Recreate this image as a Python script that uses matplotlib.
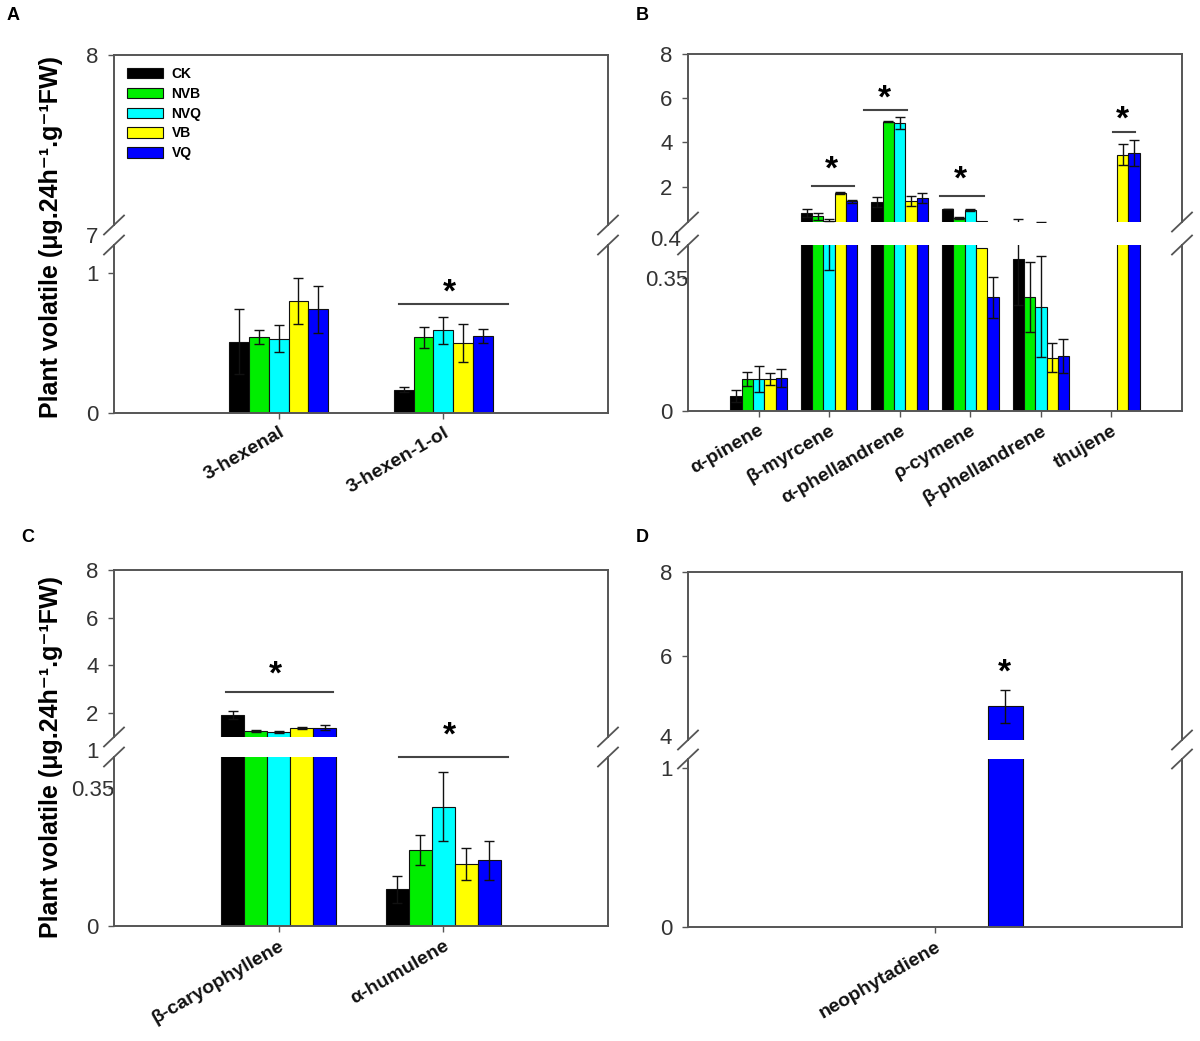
import numpy as np
import matplotlib.pyplot as plt
import matplotlib.transforms as mtransforms
from matplotlib.lines import Line2D
from matplotlib.patches import Patch

W, H = 1200, 1041

plt.rcParams['font.family'] = ['Liberation Sans', 'DejaVu Sans']

nan = np.nan
treatments = ['CK', 'NVB', 'NVQ', 'VB', 'VQ']
colors = ['#000000', '#00ee00', '#00ffff', '#ffff00', '#0000ff']

# A : green leaf volatiles
cats_A = ['3-hexenal', '3-hexen-1-ol']
mean_A = [[0.51, 0.167], [0.54, 0.54], [0.53, 0.59], [0.80, 0.50], [0.74, 0.55]]
err_A = [[0.23, 0.017], [0.05, 0.074], [0.095, 0.095], [0.167, 0.136], [0.167, 0.05]]

# B : monoterpenes
cats_B = ['α-pinene', 'β-myrcene', 'α-phellandrene', 'ρ-cymene', 'β-phellandrene', 'thujene']
mean_B = [[0.039, 0.81, 1.30, 0.99, 0.40, nan],
          [0.084, 0.66, 4.94, 0.58, 0.30, nan],
          [0.084, 0.45, 4.87, 0.93, 0.275, nan],
          [0.084, 1.71, 1.36, 0.43, 0.14, 3.44],
          [0.087, 1.33, 1.48, 0.30, 0.145, 3.52]]
err_B = [[0.016, 0.20, 0.21, 0.02, 0.12, nan],
         [0.019, 0.15, 0.03, 0.05, 0.093, nan],
         [0.034, 0.08, 0.27, 0.04, 0.134, nan],
         [0.015, 0.05, 0.23, nan, 0.038, 0.48],
         [0.023, 0.05, 0.23, 0.054, 0.044, 0.60]]

# C : sesquiterpenes
cats_C = ['β-caryophyllene', 'α-humulene']
mean_C = [[1.93, 0.093], [1.26, 0.193], [1.20, 0.303], [1.39, 0.157], [1.39, 0.167]]
err_C = [[0.17, 0.035], [0.05, 0.038], [0.04, 0.088], [0.05, 0.04], [0.11, 0.049]]

# D : diterpene
cats_D = ['neophytadiene']
mean_D = [[nan], [nan], [nan], [nan], [4.8]]
err_D = [[nan], [nan], [nan], [nan], [0.4]]

# significance marks: (axis, x0, x1, y_line, x_star, y_star)
sig_A = [('lo', 0.73, 1.39, 0.779, 1.04, 0.89)]
sig_B = [('up', 0.75, 1.35, 2.04, 1.03, 2.96),
         ('up', 1.50, 2.11, 5.47, 1.79, 6.18),
         ('up', 2.57, 3.19, 1.59, 2.86, 2.51),
         ('up', 5.02, 5.33, 4.48, 5.16, 5.25)]
sig_C = [('up', -0.32, 0.33, 2.87, -0.02, 3.79),
         ('lo', 0.73, 1.39, 0.429, 1.04, 0.495)]
sig_D = [('up', None, None, None, 0.28, 5.72)]

fig = plt.figure(figsize=(12, 10.41), dpi=100)
SPINE = '#555555'
TXT = '#333333'


def px_rect(l, t, r, b):
    return [l / W, 1 - b / H, (r - l) / W, (b - t) / H]


def ylabel_fmt(ax, ticks, labels):
    ax.set_yticks(ticks)
    ax.set_yticklabels(labels, fontsize=16, color=TXT, ha='center')
    ax.tick_params(axis='y', length=4, width=1, color=SPINE, pad=11.5, direction='out')


def draw_panel(box, up_lim, lo_lim, cats, means, errs, width, xlim,
               up_ticks, lo_ticks, breaks, sig):
    l, t, r, ub, lt, b = box
    ax_up = fig.add_axes(px_rect(l, t, r, ub))
    ax_lo = fig.add_axes(px_rect(l, lt, r, b))
    x = np.arange(len(cats))
    n = len(treatments)
    for ax in (ax_up, ax_lo):
        for i in range(n):
            xs = x + (i - (n - 1) / 2) * width
            m = np.array(means[i], dtype=float)
            e = np.array(errs[i], dtype=float)
            if ax is ax_up:
                # only what reaches above the break shows in the upper part
                e = np.where(m + np.nan_to_num(e) > up_lim[0], e, nan)
                m = np.where(m > up_lim[0], m, nan)
            ax.bar(xs, m, width, color=colors[i], edgecolor='#111111',
                   linewidth=0.8, zorder=2)
            ax.errorbar(xs, m if ax is ax_lo else np.array(means[i], dtype=float),
                        yerr=e, fmt='none', ecolor='#111111',
                        elinewidth=1, capsize=3.5, capthick=1, zorder=3)
        ax.set_xlim(xlim)
        for s in ax.spines.values():
            s.set_color(SPINE)
            s.set_linewidth(1.4)
    ax_up.set_ylim(up_lim)
    ax_lo.set_ylim(lo_lim)
    ax_up.spines['bottom'].set_visible(False)
    ax_lo.spines['top'].set_visible(False)
    ax_up.tick_params(axis='x', bottom=False, labelbottom=False)
    ylabel_fmt(ax_up, up_ticks, [f'{v:g}' for v in up_ticks])
    ylabel_fmt(ax_lo, lo_ticks, [f'{v:g}' for v in lo_ticks])

    ax_lo.set_xticks(x)
    ax_lo.set_xticklabels(cats, fontsize=14, fontweight='bold', rotation=30,
                          ha='right', rotation_mode='anchor', color='#111111')
    ax_lo.tick_params(axis='x', length=4, width=1, color=SPINE, pad=4)

    # break marks on both vertical spines
    for xs in (l, r):
        for yb in (ub, lt):
            fig.add_artist(Line2D([(xs - 10) / W, (xs + 10) / W],
                                  [1 - (yb + 9.5) / H, 1 - (yb - 9.5) / H],
                                  color=SPINE, lw=1.3))
    # labels sitting on the break
    for txt, ypx in breaks:
        fig.text((l - 22) / W, 1 - ypx / H, txt, fontsize=16, color=TXT,
                 ha='center', va='center')

    shift = mtransforms.ScaledTranslation(0, -0.05, fig.dpi_scale_trans)
    for which, x0, x1, yl, xs_, ys_ in sig:
        ax = ax_up if which == 'up' else ax_lo
        if x0 is not None:
            ax.plot([x0, x1], [yl, yl], color='#444444', lw=1.5, clip_on=False, zorder=4)
        ax.text(xs_, ys_, '*', fontsize=24, fontweight='bold', ha='center',
                va='center', clip_on=False, zorder=4,
                transform=ax.transData + shift)
    return ax_up, ax_lo


axA_up, axA_lo = draw_panel((114, 55, 608, 225, 245, 413), (7, 8), (0, 1.2),
                            cats_A, mean_A, err_A, 0.12, (-1, 2),
                            [8], [0, 1], [('7', 238)], sig_A)
axB_up, axB_lo = draw_panel((688, 54, 1182, 222, 245, 411), (0.4, 8), (0, 0.437),
                            cats_B, mean_B, err_B, 0.16, (-1, 6),
                            [2, 4, 6, 8], [0, 0.35], [('0.4', 240)], sig_B)
axC_up, axC_lo = draw_panel((114, 570, 608, 737, 757, 926), (1, 8), (0, 0.429),
                            cats_C, mean_C, err_C, 0.14, (-1, 2),
                            [2, 4, 6, 8], [0, 0.35], [('1', 753)], sig_C)
axD_up, axD_lo = draw_panel((688, 572, 1182, 740, 759, 927), (4, 8), (0, 1.057),
                            cats_D, mean_D, err_D, 0.142, (-1, 1),
                            [6, 8], [0, 1], [('4', 738)], sig_D)

# legend in panel A
handles = [Patch(facecolor=c, edgecolor='#111111', linewidth=0.8) for c in colors]
axA_up.legend(handles, treatments, loc='upper left', frameon=False,
              bbox_to_anchor=(127 / W, 1 - 67 / H), bbox_transform=fig.transFigure,
              borderpad=0, borderaxespad=0, handlelength=2.6, handleheight=0.8,
              handletextpad=0.6, labelspacing=0.42,
              prop={'size': 10, 'weight': 'bold'})

ylab = 'Plant volatile (μg.24h⁻¹.g⁻¹FW)'
fig.text(51 / W, 1 - 237 / H, ylab, rotation=90, fontsize=18, fontweight='bold',
         ha='center', va='center')
fig.text(51 / W, 1 - 757 / H, ylab, rotation=90, fontsize=18, fontweight='bold',
         ha='center', va='center')

for letter, xp, yp in [('A', 13, 15), ('B', 642, 15), ('C', 28, 538), ('D', 642, 538)]:
    fig.text(xp / W, 1 - yp / H, letter, fontsize=13, fontweight='bold',
             ha='center', va='center')

fig.savefig('out.png', dpi=100)
